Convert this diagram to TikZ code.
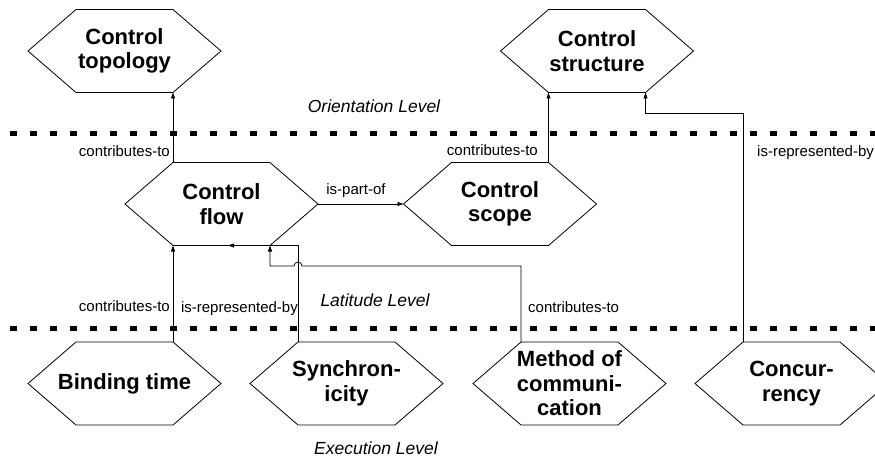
\documentclass[tikz,border=0pt]{standalone}
\usepackage{fontspec}
\setmainfont{Liberation Sans}
\usetikzlibrary{calc,arrows.meta}
\begin{document}
\begin{tikzpicture}[x=1pt,y=-1pt,
  hexa/.style={font=\fontsize{22}{24.5}\selectfont\bfseries, align=center, inner sep=0pt},
  lbl/.style={font=\fontsize{15}{18}\selectfont, inner sep=0pt},
  lvl/.style={font=\fontsize{17.5}{20}\selectfont\itshape, inner sep=0pt},
  conn/.style={line width=0.8pt, -{Triangle[length=6pt,width=4pt]}},
  hexline/.style={line width=0.8pt},
  levelline/.style={line width=5pt, dash pattern=on 7pt off 13pt}]
\useasboundingbox (0,0) rectangle (875,465);
\clip (0,0) rectangle (875,465);

% level separators
\draw[levelline] (10,133.5) -- (885,133.5);
\draw[levelline] (10,328) -- (885,328);

% level names
\node[lvl] (orient) at (374,106) {Orientation Level};
\node[lvl] (latit) at (375,300) {Latitude Level};
\node[lvl] (exec) at (376,448) {Execution Level};

% concept nodes
\node[hexa] (ct) at (124.5,51) {Control\\topology};
\node[hexa] (cst) at (597,51) {Control\\structure};
\node[hexa] (cf) at (221.5,204) {Control\\flow};
\node[hexa] (csc) at (500,204) {Control\\scope};
\node[hexa] (bt) at (124.5,383.5) {Binding time};
\node[hexa] (sy) at (346.5,383.5) {Synchron-\\icity};
\node[hexa] (mc) at (569.5,383.5) {Method of\\communi-\\cation};
\node[hexa] (cc) at (791.5,383.5) {Concur-\\rency};

\foreach \n in {ct,cst,cf,csc,bt,sy,mc,cc}
  \draw[hexline] ($(\n.center)+(-96.5,0)$) -- ++(48,-41.5) -- ++(97,0)
    -- ++(48,41.5) -- ++(-48,41.5) -- ++(-97,0) -- cycle;

% connectors
\draw[conn] ($(bt)+(48.5,-41.5)$) -- ($(cf)+(-48.5,41.5)$);
\draw[conn] ($(cf)+(-48.5,-41.5)$) -- ($(ct)+(48.5,41.5)$);
\draw[conn] ($(cf)+(96.5,0)$) -- ($(csc)+(-96.5,0)$);
\draw[conn] ($(csc)+(48.5,-41.5)$) -- ($(cst)+(-48.5,41.5)$);
\draw[conn] ($(cc)+(-48.5,-41.5)$) |- ($(cst)+(48.5,62)$) -- ($(cst)+(48.5,41.5)$);
\draw[conn] ($(sy)+(-48.5,-41.5)$) |- ($(cf)+(6.5,41.5)$);
\draw[conn] ($(mc)+(-48.5,-41.5)$) |- ($(sy)+(-44.5,-117.5)$)
  arc[start angle=0,end angle=180,radius=4pt] -| ($(cf)+(48.5,41.5)$);

% connector labels
\node[lbl,anchor=base east] (l1) at (170,157) {contributes-to};
\node[lbl,anchor=base] (l2) at (356,194) {is-part-of};
\node[lbl,anchor=base east] (l3) at (538,156) {contributes-to};
\node[lbl,anchor=base west] (l4) at (757,157) {is-represented-by};
\node[lbl,anchor=base east] (l5) at (170,311) {contributes-to};
\node[lbl,anchor=base east] (l6) at (298,312) {is-represented-by};
\node[lbl,anchor=base west] (l7) at (528,312) {contributes-to};
\end{tikzpicture}
\end{document}
